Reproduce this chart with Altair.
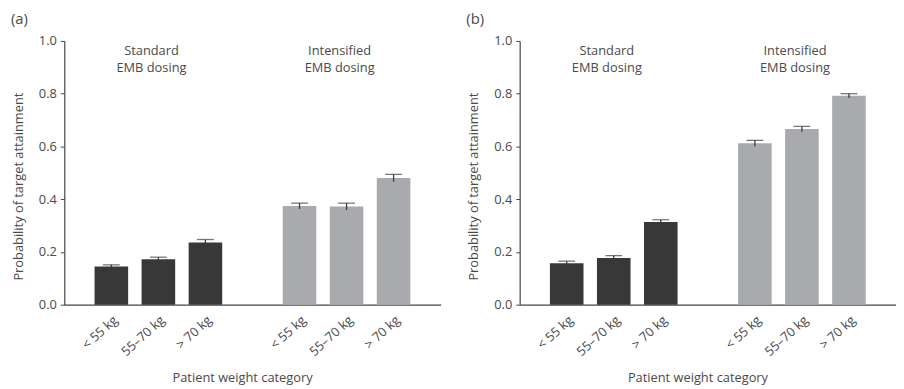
import altair as alt
import pandas as pd

# ---- data ----
weight_cats = ["< 55 kg", "55–70 kg", "> 70 kg"]
regimens = ["Standard EMB dosing", "Intensified EMB dosing"]
regimen_line1 = ["Standard", "Intensified"]
regimen_line2 = ["EMB dosing", "EMB dosing"]

a_standard = [0.145, 0.172, 0.236]
a_standard_err = [0.006, 0.008, 0.011]
a_intensified = [0.374, 0.372, 0.480]
a_intensified_err = [0.011, 0.013, 0.014]

b_standard = [0.157, 0.177, 0.313]
b_standard_err = [0.008, 0.009, 0.009]
b_intensified = [0.612, 0.666, 0.792]
b_intensified_err = [0.011, 0.010, 0.008]

y_ticks = [0.0, 0.2, 0.4, 0.6, 0.8, 1.0]

FONT = "Open Sans"
TXT = "#4a4a4a"
DARK = "#383838"

# slot positions on the x scale: 3 bars, one empty slot, 3 bars
slots = []
slot_labels = {}
for g in range(len(regimens)):
    for i, c in enumerate(weight_cats):
        s = g * (len(weight_cats) + 1) + i + 1
        slots.append(s)
        slot_labels[s] = c
n_slots = len(regimens) * (len(weight_cats) + 1)
label_array = [slot_labels.get(k, "") for k in range(n_slots + 1)]
label_expr = "[" + ",".join("'" + t + "'" for t in label_array) + "][datum.value]"
group_centers = [g * (len(weight_cats) + 1) + 2 for g in range(len(regimens))]


def make_panel(tag, std, std_err, inten, inten_err, light):
    vals = std + inten
    errs = std_err + inten_err
    df = pd.DataFrame({
        "slot": slots,
        "weight": weight_cats * 2,
        "regimen": [regimens[0]] * 3 + [regimens[1]] * 3,
        "p": vals,
        "err": errs,
    })
    df["lo"] = df["p"] - df["err"]
    df["hi"] = df["p"] + df["err"]
    lab = pd.DataFrame({
        "slot": group_centers * 2,
        "label": regimen_line1 + regimen_line2,
        "ypos": [0.946] * 2 + [0.882] * 2,
    })

    xscale = alt.Scale(domain=[0, n_slots], padding=0, nice=False, zero=False)
    yscale = alt.Scale(domain=[0, 1], nice=False)
    x = alt.X("slot:Q", scale=xscale, title="Patient weight category",
              axis=alt.Axis(values=slots, labelExpr=label_expr, labelAngle=-42,
                            labelOverlap=False, ticks=False, grid=False, labelPadding=9,
                            titleX=180, titleY=78, titleBaseline="alphabetic"))
    xs = alt.X("slot:Q", scale=xscale)
    y = alt.Y("p:Q", scale=yscale, title="Probability of target attainment",
              axis=alt.Axis(values=y_ticks, format=".1f", grid=False, tickSize=4,
                            labelPadding=4, titlePadding=13, titleY=147))

    base = alt.Chart(df)
    bars = base.mark_bar(size=34).encode(
        x=x, y=y,
        color=alt.Color("regimen:N", scale=alt.Scale(domain=regimens, range=[DARK, light]),
                        legend=None),
    )
    stems = base.mark_rule(color="#3a3a3a", strokeWidth=1.3).encode(
        x=xs, y=alt.Y("lo:Q", scale=yscale), y2="hi:Q")
    caps = base.mark_tick(orient="horizontal", size=17, thickness=1.3,
                          color="#3a3a3a").encode(x=xs, y=alt.Y("hi:Q", scale=yscale))
    texts = alt.Chart(lab).mark_text(font=FONT, fontSize=13, color=TXT,
                                     baseline="alphabetic", dx=-7).encode(
        x=xs, y=alt.Y("ypos:Q", scale=yscale), text="label:N")

    return alt.layer(bars, stems, caps, texts).properties(
        width=381, height=267,
        title=alt.TitleParams(tag, anchor="start", frame="group", dx=-54, offset=8,
                              fontSize=15, fontWeight="normal", font=FONT, color=TXT),
    )


pa = make_panel("(a)", a_standard, a_standard_err, a_intensified, a_intensified_err, "#a9aaad")
pb = make_panel("(b)", b_standard, b_standard_err, b_intensified, b_intensified_err, "#939598")

chart = alt.hconcat(pa, pb, spacing=80, bounds="flush").properties(
    padding={"left": 3, "top": 2, "right": 0, "bottom": 0}
).configure_view(
    stroke=None
).configure_axis(
    labelFont=FONT, titleFont=FONT, labelFontSize=13, titleFontSize=13,
    labelColor=TXT, titleColor=TXT, titleFontWeight="normal",
    domainColor="#444", tickColor="#444", domainWidth=1.2,
)

chart.save("out.html", embed_options={"renderer": "svg", "actions": False})
